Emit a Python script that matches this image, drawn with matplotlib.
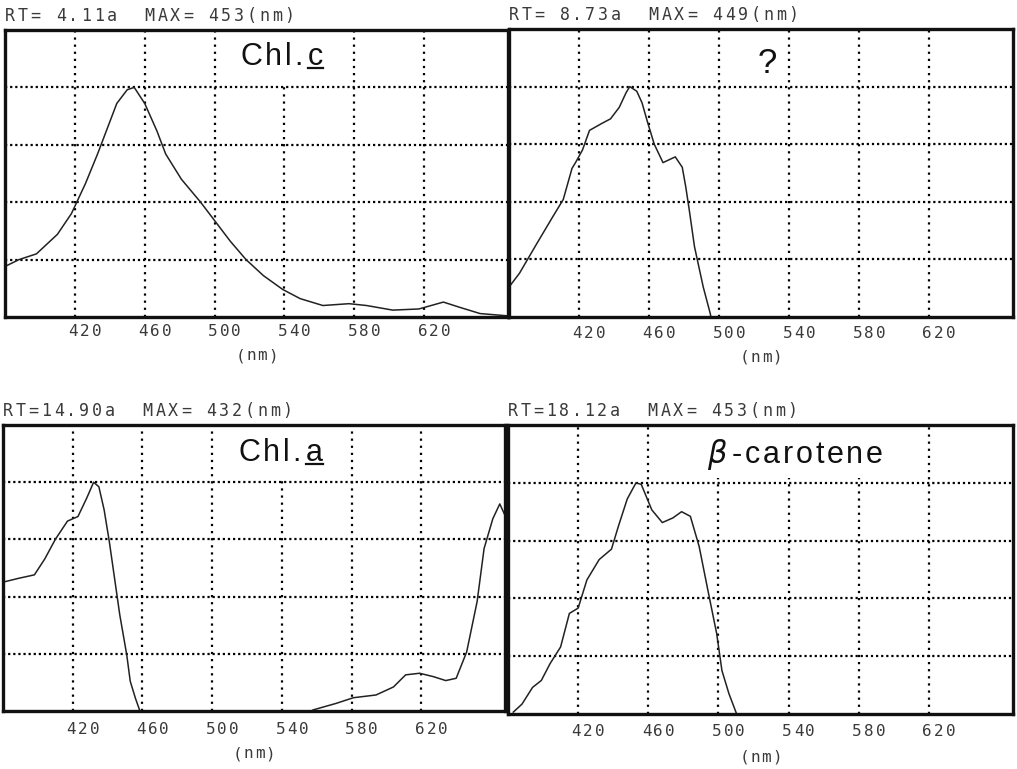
import numpy as np
import matplotlib
matplotlib.use('Agg')
from matplotlib import pyplot as plt
from matplotlib.transforms import IdentityTransform

# wavelength (nm) and relative absorbance (peak = 1.0)
wl_chlc = [380, 388, 398, 410, 418, 426, 433, 438, 444, 450, 454, 460, 467, 472, 481,
           492, 499, 509, 518, 528, 539, 549, 562, 577, 587, 602, 617, 631, 640, 652, 663, 668]
abs_chlc = [0.22, 0.25, 0.275, 0.36, 0.45, 0.58, 0.71, 0.81, 0.93, 0.99, 1.00, 0.93, 0.81, 0.71, 0.60,
            0.50, 0.43, 0.33, 0.25, 0.18, 0.12, 0.08, 0.05, 0.058, 0.05, 0.03, 0.035, 0.065, 0.043, 0.015, 0.008, 0.005]

wl_unk = [380, 386, 396, 405, 411, 416, 418, 422, 426, 433, 438, 443, 447, 449, 453,
          456, 459, 463, 468, 475, 479, 481, 483, 486, 491, 495, 498]
abs_unk = [0.13, 0.19, 0.32, 0.435, 0.51, 0.645, 0.67, 0.725, 0.81, 0.84, 0.86, 0.91, 0.975, 1.0, 0.98,
           0.93, 0.85, 0.75, 0.67, 0.695, 0.65, 0.565, 0.465, 0.305, 0.13, 0.015, -0.1]

wl_chla = [381, 389, 398, 404, 410, 417, 423, 428, 432, 435, 438, 441, 444, 447, 451, 453, 456, 458,
           462, 480, 520, 550, 558, 571, 581, 594, 604, 611, 619, 627, 634, 640, 646, 652, 656, 661, 665, 668]
abs_chla = [0.565, 0.58, 0.595, 0.665, 0.75, 0.83, 0.85, 0.93, 1.0, 0.98, 0.88, 0.74, 0.58, 0.42, 0.245, 0.13, 0.055, 0.012,
            -0.1, -0.2, -0.15, -0.03, 0.005, 0.033, 0.058, 0.07, 0.105, 0.158, 0.165, 0.15, 0.133, 0.143, 0.258, 0.478, 0.71, 0.84, 0.905, 0.855]

wl_bcar = [383, 388, 394, 399, 404, 410, 415, 420, 425, 432, 439, 443, 448, 453, 456, 462, 468,
           474, 479, 484, 489, 494, 499, 502, 506, 510, 513]
abs_bcar = [0.008, 0.043, 0.115, 0.145, 0.218, 0.29, 0.435, 0.458, 0.58, 0.668, 0.713, 0.813, 0.93, 1.0, 0.993, 0.883, 0.828,
            0.848, 0.875, 0.855, 0.725, 0.535, 0.348, 0.188, 0.088, 0.008, -0.05]

headers = ['RT= 4.11a  MAX= 453(nm)', 'RT= 8.73a  MAX= 449(nm)',
           'RT=14.90a  MAX= 432(nm)', 'RT=18.12a  MAX= 453(nm)']
# (prefix, plain part, underlined part)
titles = [('', 'Chl.', 'c'), ('', '?', ''), ('', 'Chl.', 'a'), (r'$\beta$', '-carotene', '')]
xticks = [420, 460, 500, 540, 580, 620]

W, H = 1017, 769
fig = plt.figure(figsize=(W / 100, H / 100), dpi=100)
rend = fig.canvas.get_renderer()

# axes boxes in image pixels: left, top, right, bottom
boxes = [(5, 30, 508, 317), (509, 29, 1013, 317), (3, 425, 505, 711), (508, 425, 1013, 714)]
title_pos = [(240, 65), (758, 73), (238, 461), (707, 463)]
header_pos = [(5, 21), (509, 20), (3, 416), (508, 416)]
tick_y = [(331, 356), (334, 357), (729, 754), (732, 757)]
mask_span = [(525, 555), None, (522, 552), (488, 600)]
series = [(wl_chlc, abs_chlc), (wl_unk, abs_unk), (wl_chla, abs_chla), (wl_bcar, abs_bcar)]

mono = 'DejaVu Sans Mono'
title_font = ['Liberation Sans', 'DejaVu Sans']
ink = '#111111'
print_ink = '#3a3a3a'


def put(x, y, s, **kw):
    # text at image pixel position (y measured from the top)
    return fig.text(x, H - y, s, transform=IdentityTransform(), **kw)


def dot_matrix(x, y, s, pitch, center=False, size=10):
    # fixed pitch printer text
    n = len(s)
    x0 = x - (n - 1) / 2 * pitch if center else x
    for k, ch in enumerate(s):
        if ch != ' ':
            put(x0 + k * pitch, y, ch, family=mono, fontsize=size, color=print_ink,
                ha='center' if center else 'left', va='center' if center else 'baseline')


def tracked(x, y, s, track, size=22):
    # proportional text with extra letter spacing, returns list of extents
    out = []
    for ch in s:
        t = put(x, y, ch, family=title_font, fontsize=size, color=ink, ha='left', va='baseline')
        bb = t.get_window_extent(rend)
        out.append(bb)
        x += bb.width + track
    return x, out


for i in range(4):
    l, t, r, b = boxes[i]
    ax = fig.add_axes([l / W, 1 - b / H, (r - l) / W, (b - t) / H])
    wl, ab = series[i]
    ax.plot(wl, ab, color='#222222', lw=1.1, zorder=4)
    ax.set_xlim(380, 668)
    ax.set_ylim(0, 1.25)
    for x in xticks:
        ax.axvline(x, color='black', lw=1.6, ls=(0, (1, 2.2)), zorder=2)
    for y in [0.25, 0.5, 0.75, 1.0]:
        ax.axhline(y, color='black', lw=1.6, ls=(0, (1, 1.3)), zorder=2)
    if mask_span[i]:
        ax.axvspan(mask_span[i][0], mask_span[i][1], ymin=0.815, ymax=1.0,
                   color='white', lw=0, zorder=2.2)
    ax.set_xticks([])
    ax.set_yticks([])
    for s in ax.spines.values():
        s.set_linewidth(2.4)
        s.set_color(ink)
        s.set_zorder(5)

    # printed wavelength labels
    ty_lab, ty_nm = tick_y[i]
    for x in xticks:
        px = ax.transData.transform((x, 0))[0]
        dot_matrix(px + 10, ty_lab, str(x), 11.7, center=True, size=11.5)
    dot_matrix((l + r) / 2, ty_nm, '(nm)', 11.0, center=True, size=11.5)

    # header line
    hx, hy = header_pos[i]
    dot_matrix(hx, hy, headers[i], 12.7, size=12)

    # hand lettered title
    tx, tyb = title_pos[i]
    pre, main, under = titles[i]
    if pre:
        tp = put(tx, tyb, pre, family=['DejaVu Sans'], fontsize=22, color=ink,
                 ha='left', va='baseline')
        tx += tp.get_window_extent(rend).width + 4
    if main == '?':
        put(tx, tyb, main, family=title_font, fontsize=25, color=ink, ha='left', va='baseline')
        continue
    tx, _ = tracked(tx, tyb, main, 3.0 if under else 2.8)
    if under:
        tx += 2
        _, ext = tracked(tx, tyb, under, 0)
        bb = ext[0]
        ul = plt.Line2D([bb.x0 / W, bb.x1 / W], [(H - tyb - 3) / H, (H - tyb - 3) / H],
                        color=ink, lw=1.6, transform=fig.transFigure)
        fig.add_artist(ul)

fig.savefig('out.png', dpi=100, facecolor='white')
